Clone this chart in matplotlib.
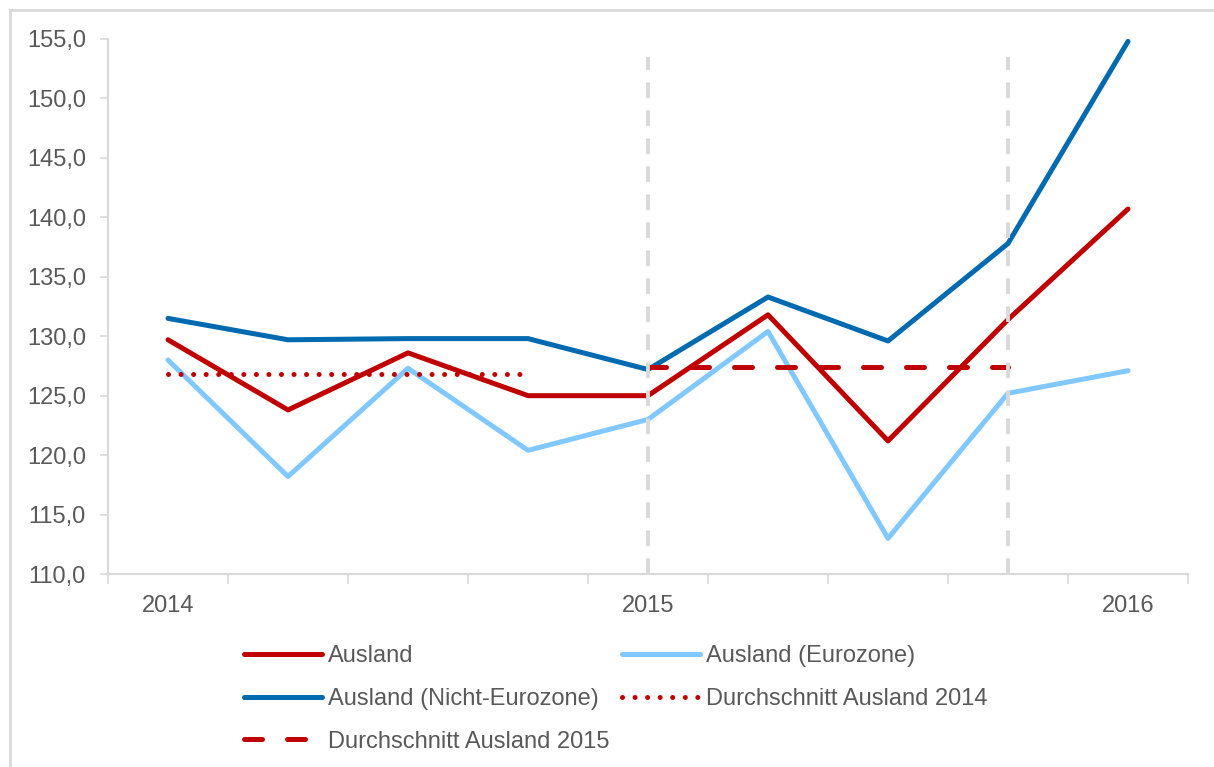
import matplotlib.pyplot as plt
from matplotlib.lines import Line2D

plt.rcParams['font.family'] = ['Liberation Sans', 'DejaVu Sans']

# Quartale 2014 Q1 ... 2016 Q1
positions = list(range(9))
ausland = [129.7, 123.8, 128.6, 125.0, 125.0, 131.8, 121.2, 131.4, 140.7]
eurozone = [128.0, 118.2, 127.3, 120.4, 123.0, 130.4, 113.0, 125.2, 127.1]
nicht_eurozone = [131.5, 129.7, 129.8, 129.8, 127.2, 133.3, 129.6, 137.8, 154.8]
avg_2014_pos = [0, 1, 2, 3]
avg_2014 = [126.8, 126.8, 126.8, 126.8]
avg_2015_pos = [4, 5, 6, 7]
avg_2015 = [127.4, 127.4, 127.4, 127.4]
year_pos = [0, 4, 8]
year_labels = ['2014', '2015', '2016']
marker_lines = [4, 7]

red = '#C00000'
light_blue = '#80C8FF'
dark_blue = '#006AB0'
grey_text = '#595959'
axis_grey = '#D9D9D9'

fig = plt.figure(figsize=(12.14, 7.67), dpi=100)
ax = fig.add_axes([108 / 1214, 1 - 574 / 767, (1188 - 108) / 1214, (574 - 39) / 767])

l1, = ax.plot(positions, ausland, color=red, lw=3.6, label='Ausland', solid_capstyle='round')
l2, = ax.plot(positions, eurozone, color=light_blue, lw=3.6, label='Ausland (Eurozone)', solid_capstyle='round')
l3, = ax.plot(positions, nicht_eurozone, color=dark_blue, lw=3.6, label='Ausland (Nicht-Eurozone)', solid_capstyle='round')
l4, = ax.plot(avg_2014_pos, avg_2014, color=red, lw=3.6, ls=(0, (0.01, 2.5)), dash_capstyle='round',
              label='Durchschnitt Ausland 2014')
l5, = ax.plot(avg_2015_pos, avg_2015, color=red, lw=3.6, ls=(0, (3.6, 5.0)), dash_capstyle='round',
              label='Durchschnitt Ausland 2015')

for xv in marker_lines:
    ax.plot([xv, xv], [110, 153.5], color=axis_grey, lw=2.8, ls=(0, (4, 3.2)), zorder=5)

ax.set_xlim(-0.5, 8.5)
ax.set_ylim(110, 155)
ax.set_yticks(range(110, 156, 5))
ax.set_yticklabels([f'{v},0' for v in range(110, 156, 5)])
ax.set_xticks(year_pos)
ax.set_xticklabels(year_labels)
ax.set_xticks([i - 0.5 for i in range(10)], minor=True)
ax.tick_params(axis='x', which='major', length=0, pad=15, labelsize=17, labelcolor=grey_text)
ax.tick_params(axis='x', which='minor', length=7, width=1.2, color=axis_grey, direction='out')
ax.tick_params(axis='y', length=6, width=1.2, color=axis_grey, pad=10, labelsize=17, labelcolor=grey_text)

for side in ['top', 'right']:
    ax.spines[side].set_visible(False)
for side in ['left', 'bottom']:
    ax.spines[side].set_color(axis_grey)
    ax.spines[side].set_linewidth(1.5)

fig.legend([l1, l3, l5, l2, l4],
           [l1.get_label(), l3.get_label(), l5.get_label(), l2.get_label(), l4.get_label()],
           ncol=2, loc='upper left', bbox_to_anchor=(244 / 1214, 1 - 645 / 767),
           frameon=False, fontsize=17, labelcolor=grey_text, handlelength=3.3,
           handletextpad=0.25, columnspacing=0.55, labelspacing=0.88,
           borderpad=0, borderaxespad=0)

# Rahmen nur links und oben sichtbar
fig.add_artist(Line2D([9.5 / 1214, 9.5 / 1214], [0, 1 - 10 / 767], transform=fig.transFigure,
                      color=axis_grey, lw=2))
fig.add_artist(Line2D([9.5 / 1214, 1], [1 - 10 / 767, 1 - 10 / 767], transform=fig.transFigure,
                      color=axis_grey, lw=2))

fig.savefig('out.png', dpi=100)
